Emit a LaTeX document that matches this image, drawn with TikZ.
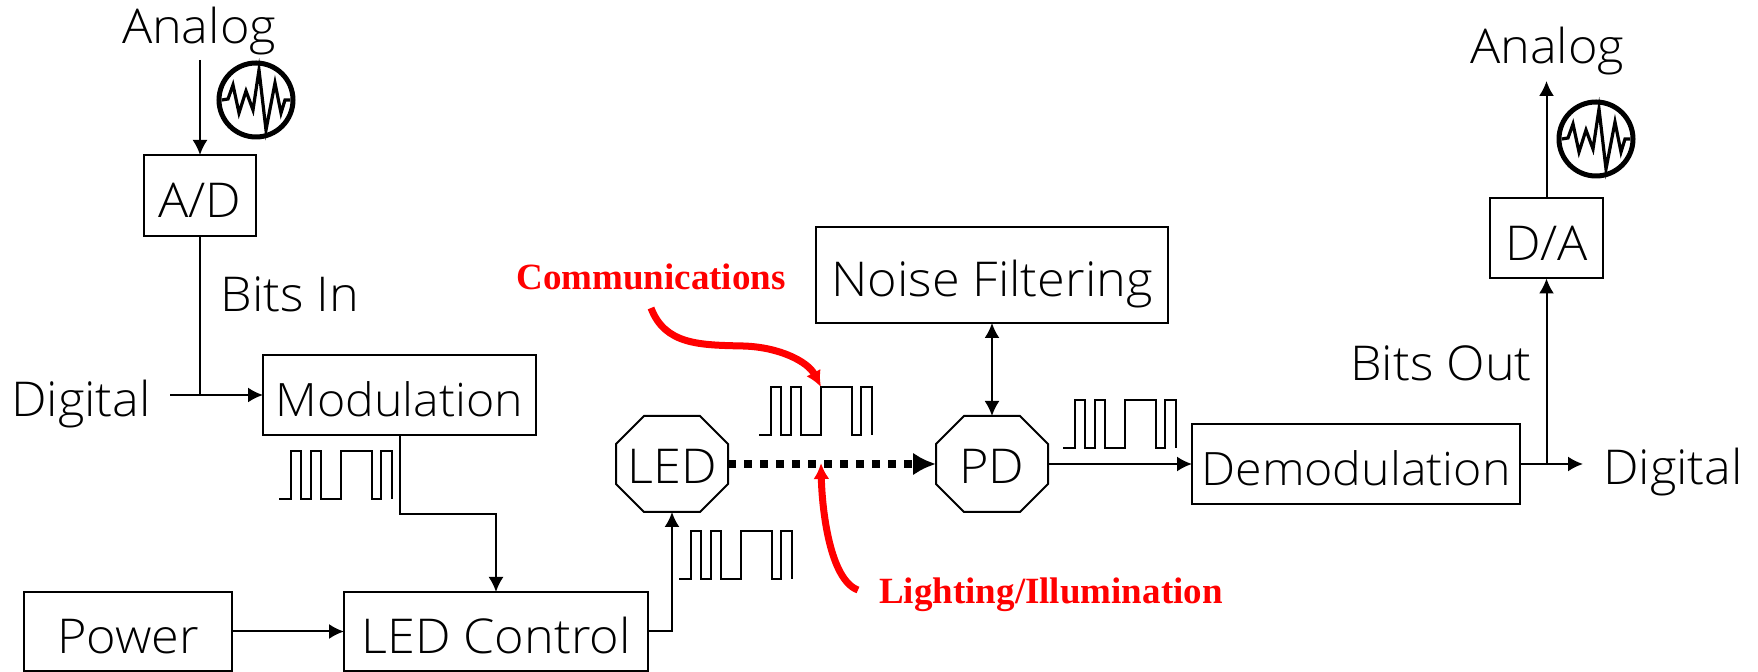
\documentclass[tikz,border=0pt]{standalone}
\usepackage{fontspec}
\setmainfont{Open Sans Light}[FakeStretch=1.05]
\newfontfamily\redfont{Liberation Serif}
\usetikzlibrary{arrows.meta}
\definecolor{redmark}{RGB}{255,0,0}
\tikzset{
  labeltext/.style={inner sep=0pt,outer sep=0pt,anchor=base,font=\fontsize{24}{28}\selectfont},
  redlabel/.style={inner sep=0pt,outer sep=0pt,anchor=base,text=redmark,font=\redfont\bfseries\fontsize{18.5}{22}\selectfont},
  boxnode/.style={draw,line width=1pt,inner sep=0pt,outer sep=0pt,text height=22pt,text depth=0pt,align=center,font=\fontsize{24}{28}\selectfont},
  longbox/.style={boxnode,font=\fontsize{23}{28}\selectfont},
  octnode/.style={inner sep=0pt,outer sep=0pt,text height=20pt,text depth=0pt,minimum width=56pt,minimum height=48pt,font=\fontsize{24}{28}\selectfont},
  octline/.style={draw,line width=1pt,line join=miter},
  conn/.style={draw,line width=1pt,-{Latex[length=7.5pt,width=7.5pt]}},
  plainconn/.style={draw,line width=1pt},
  lightconn/.style={draw,line width=4pt,dash pattern=on 4pt off 4pt,-{Latex[length=11.5pt,width=11.5pt]}},
  redconn/.style={draw=redmark,line width=3.5pt,-{Latex[length=8pt,width=8pt]}},
  pulsetrain/.pic={\draw[line width=.7pt] (0,0) -- (12,0) -- (12,-48) -- (22,-48) -- (22,0) -- (32,0) -- (32,-48) -- (42,-48) -- (42,0) -- (62,0) -- (62,-48) -- (93,-48) -- (93,0) -- (102,0) -- (102,-48) -- (113,-48) -- (113,0);},
  noiseicon/.pic={\draw[line width=2.5pt] (0,0) circle[radius=37];
    \draw[line width=1.6pt] (-34,0) -- (-28,-1) -- (-23,-15) -- (-17,13) -- (-10,-9) -- (-3,10) -- (3,-30) -- (10,30) -- (19,-17) -- (25,13) -- (29,0) -- (34,0);}
}
\begin{document}
\begin{tikzpicture}[x=.5pt,y=-.5pt]
\useasboundingbox (0,0) rectangle (1758,672);
% boxes
\node[boxnode,minimum width=56pt,minimum height=40.5pt] (ad) at (200,195.5) {A/D};
\node[longbox,minimum width=136.5pt,minimum height=40pt] (mod) at (399.5,395) {Modulation};
\node[boxnode,minimum width=104pt,minimum height=39.5pt] (power) at (128,631.5) {Power};
\node[boxnode,minimum width=152pt,minimum height=39.5pt] (ledc) at (496,631.5) {LED Control};
\node[octnode] (led) at (672,464) {LED};
\node[octnode] (pd) at (992,464) {PD};
\foreach \oct in {led,pd}
  \draw[octline] ([xshift=14pt]\oct.north west) -- ([xshift=-14pt]\oct.north east) -- ([yshift=-14pt]\oct.north east) -- ([yshift=14pt]\oct.south east) -- ([xshift=-14pt]\oct.south east) -- ([xshift=14pt]\oct.south west) -- ([yshift=14pt]\oct.south west) -- ([yshift=-14pt]\oct.north west) -- cycle;
\node[boxnode,minimum width=176pt,minimum height=48pt] (noise) at (992,275) {Noise Filtering};
\node[longbox,minimum width=164pt,minimum height=40pt] (demod) at (1356,464) {Demodulation};
\node[boxnode,minimum width=56.5pt,minimum height=40pt] (da) at (1546.5,238.5) {D/A};
% labels
\node[labeltext] (analogin) at (199,44) {Analog};
\node[labeltext] (analogout) at (1547,64) {Analog};
\node[labeltext] (digitalin) at (81,417) {Digital};
\node[labeltext] (digitalout) at (1673,485) {Digital};
\node[labeltext] (bitsin) at (290,312) {Bits In};
\node[labeltext] (bitsout) at (1441,381) {Bits Out};
\node[redlabel] (comm) at (651,290) {Communications};
\node[redlabel] (light) at (1051,604) {Lighting/Illumination};
% free ends
\coordinate (ainstart) at (200,60);
\coordinate (dinstart) at (170,395);
\coordinate (jin) at (200,395);
\coordinate (bendctl) at (496,514);
\coordinate (jout) at (1546.5,464);
\coordinate (doutend) at (1583,464);
\coordinate (aoutend) at (1546.5,81);
\coordinate (commstart) at (651,308);
\coordinate (commend) at (821,387);
\coordinate (lightstart) at (858,590);
\coordinate (lightend) at (821,463);
% connectors
\draw[conn] (ainstart) -- (ad.north);
\draw[plainconn] (ad.south) -- (jin);
\draw[conn] (dinstart) -- (mod.west);
\draw[conn] (mod.south) |- (bendctl) -- (ledc.north);
\draw[conn] (power.east) -- (ledc.west);
\draw[conn] (ledc.east) -| (led.south);
\draw[lightconn] (led.east) -- (pd.west);
\draw[conn,{Latex[length=7.5pt,width=7.5pt]}-{Latex[length=7.5pt,width=7.5pt]}] (noise.south) -- (pd.north);
\draw[conn] (pd.east) -- (demod.west);
\draw[conn] (demod.east) -- (doutend);
\draw[conn] (jout) -- (da.south);
\draw[conn] (da.north) -- (aoutend);
\draw[redconn] (commstart) .. controls (665,345) and (700,345) .. (743,346) .. controls (780,347) and (808,362) .. (commend);
\draw[redconn] (lightstart) .. controls (830,580) and (822,510) .. (lightend);
% signal drawings
\pic at (279,499) {pulsetrain};
\pic at (759,435) {pulsetrain};
\pic at (679,579) {pulsetrain};
\pic at (1063,448) {pulsetrain};
\pic at (256,100) {noiseicon};
\pic at (1596,139) {noiseicon};
\end{tikzpicture}
\end{document}
